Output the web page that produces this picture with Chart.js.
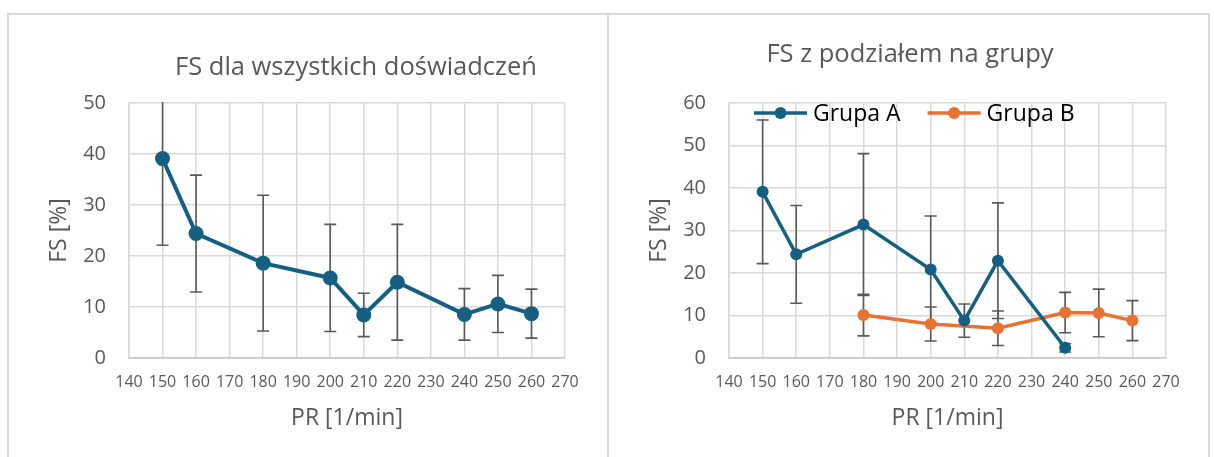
<!DOCTYPE html>
<html>
<head>
<meta charset="utf-8">
<script src="https://cdn.jsdelivr.net/npm/chart.js@4/dist/chart.umd.min.js"></script>
<style>
  html, body { margin: 0; padding: 0; background: #fff; width: 1214px; height: 457px; overflow: hidden; }
  .panel { position: absolute; top: 13px; height: 470px; border: 2px solid #d9d9d9; border-bottom: none; box-sizing: border-box; }
  #panelAll { left: 7px; width: 602px; }
  #panelGroups { left: 607px; width: 603px; }
  .wrap { position: absolute; top: 0; width: 607px; height: 457px; }
  canvas { display: block; }
</style>
</head>
<body>
<div class="panel" id="panelAll"></div>
<div class="panel" id="panelGroups"></div>
<div class="wrap" style="left:0"><canvas id="chartAll" width="607" height="457"></canvas></div>
<div class="wrap" style="left:607px"><canvas id="chartGroups" width="607" height="457"></canvas></div>

<script>
// PR levels (x) and FS means / standard deviations (y)
const prAll      = [150, 160, 180, 200, 210, 220, 240, 250, 260];
const fsAll      = [39.1, 24.4, 18.6, 15.7, 8.45, 14.85, 8.55, 10.6, 8.7];
const fsAllSd    = [17.0, 11.45, 13.3, 10.5, 4.25, 11.35, 5.05, 5.6, 4.8];

const prGroupA   = [150, 160, 180, 200, 210, 220, 240];
const fsGroupA   = [39.1, 24.4, 31.4, 20.8, 8.8, 22.9, 2.4];
const fsGroupASd = [16.9, 11.5, 16.7, 12.6, 3.9, 13.6, 1.0];

const prGroupB   = [180, 200, 220, 240, 250, 260];
const fsGroupB   = [10.1, 8.0, 7.0, 10.7, 10.6, 8.8];
const fsGroupBSd = [4.9, 4.0, 4.05, 4.75, 5.6, 4.7];

const groupLabels = ['Grupa A', 'Grupa B'];

// Axis ranges
const prMin = 140, prMax = 270, prStep = 10;
const fsAllMax = 50, fsGroupsMax = 60, fsStep = 10;

const BLUE = '#156082';
const ORANGE = '#E97132';
const TEXT = '#595959';
const GRID = '#d9d9d9';
const FONT = "'Open Sans', 'DejaVu Sans', sans-serif";

const toPoints = (xs, ys) => xs.map((x, i) => ({ x, y: ys[i] }));

// Vertical error bars with caps, drawn under the lines and markers
const errorBars = {
  id: 'errorBars',
  beforeDatasetsDraw(chart, args, opts) {
    const { ctx, chartArea: a, scales: { x, y } } = chart;
    ctx.save();
    ctx.beginPath();
    ctx.rect(a.left, a.top - 1, a.width, a.height + 2);
    ctx.clip();
    ctx.strokeStyle = opts.color;
    ctx.lineWidth = opts.width;
    chart.data.datasets.forEach(ds => {
      (ds.errors || []).forEach((e, i) => {
        const p = ds.data[i];
        const px = x.getPixelForValue(p.x);
        const hi = y.getPixelForValue(p.y + e);
        const lo = y.getPixelForValue(p.y - e);
        ctx.beginPath();
        ctx.moveTo(px, hi); ctx.lineTo(px, lo);
        ctx.moveTo(px - opts.cap, hi); ctx.lineTo(px + opts.cap, hi);
        ctx.moveTo(px - opts.cap, lo); ctx.lineTo(px + opts.cap, lo);
        ctx.stroke();
      });
    });
    ctx.restore();
  }
};

// Chart heading, placed above the plot
const heading = {
  id: 'heading',
  afterDraw(chart, args, opts) {
    const { ctx } = chart;
    ctx.save();
    ctx.font = `${opts.size}px ${FONT}`;
    ctx.fillStyle = TEXT;
    ctx.textAlign = 'center';
    ctx.textBaseline = 'alphabetic';
    ctx.fillText(opts.text, opts.x, opts.y);
    ctx.restore();
  }
};

// Line-and-marker legend drawn inside the plot area
const lineLegend = {
  id: 'lineLegend',
  afterDraw(chart, args, opts) {
    if (!opts.display) return;
    const { ctx } = chart;
    ctx.save();
    ctx.font = `${opts.size}px ${FONT}`;
    ctx.textBaseline = 'middle';
    ctx.textAlign = 'left';
    let x = opts.x;
    const y = opts.y;
    chart.data.datasets.forEach(ds => {
      ctx.strokeStyle = ds.borderColor;
      ctx.lineWidth = ds.borderWidth;
      ctx.beginPath();
      ctx.moveTo(x, y); ctx.lineTo(x + opts.lineLength, y);
      ctx.stroke();
      ctx.fillStyle = ds.pointBackgroundColor;
      ctx.beginPath();
      ctx.arc(x + opts.lineLength / 2, y, opts.markerRadius, 0, Math.PI * 2);
      ctx.fill();
      ctx.fillStyle = '#000';
      const tx = x + opts.lineLength + opts.textGap;
      ctx.fillText(ds.label, tx, y + 1);
      x = tx + ctx.measureText(ds.label).width + opts.itemGap;
    });
    ctx.restore();
  }
};

function scalesFor(yMax, yTitlePad) {
  return {
    x: {
      type: 'linear', min: prMin, max: prMax,
      afterFit: s => { s.height = 99; },
      grid: { color: GRID, lineWidth: 1.5, drawTicks: false },
      border: { color: '#c6c6c6', width: 1.5 },
      ticks: { stepSize: prStep, padding: 15, color: TEXT, font: { family: FONT, size: 16 } },
      title: { display: true, text: 'PR [1/min]', color: TEXT, font: { family: FONT, size: 23 }, padding: { top: 0, bottom: 25 } }
    },
    y: {
      min: 0, max: yMax,
      grid: { color: GRID, lineWidth: 1.5, drawTicks: false },
      border: { color: GRID, width: 1.5 },
      ticks: { stepSize: fsStep, padding: 23, color: TEXT, font: { family: FONT, size: 20 } },
      title: { display: true, text: 'FS [%]', color: TEXT, font: { family: FONT, size: 23 }, padding: { top: yTitlePad, bottom: 0 } }
    }
  };
}

function makeChart(id, datasets, cfg) {
  const scales = scalesFor(cfg.yMax, cfg.yTitlePad);
  scales.y.afterFit = s => { s.width = cfg.plotLeft; };
  return new Chart(document.getElementById(id), {
    type: 'line',
    data: { datasets },
    plugins: [errorBars, heading, lineLegend],
    options: {
      responsive: false,
      animation: false,
      layout: { padding: { left: 0, top: 103, right: cfg.padRight, bottom: 0 } },
      scales,
      plugins: {
        legend: { display: false },
        tooltip: { enabled: false },
        errorBars: { color: '#595959', width: 1.6, cap: 6 },
        heading: cfg.heading,
        lineLegend: cfg.legend
      }
    }
  });
}

makeChart('chartAll', [{
  label: 'FS',
  data: toPoints(prAll, fsAll),
  errors: fsAllSd,
  borderColor: BLUE, backgroundColor: BLUE, pointBackgroundColor: BLUE, pointBorderColor: BLUE,
  borderWidth: 4, pointRadius: 7.5, pointBorderWidth: 0, tension: 0
}], {
  yMax: fsAllMax, yTitlePad: 46, plotLeft: 129, padRight: 42,
  heading: { text: 'FS dla wszystkich doświadczeń', x: 356, y: 75, size: 25.5 },
  legend: { display: false }
});

makeChart('chartGroups', [{
  label: groupLabels[0],
  data: toPoints(prGroupA, fsGroupA),
  errors: fsGroupASd,
  borderColor: BLUE, backgroundColor: BLUE, pointBackgroundColor: BLUE, pointBorderColor: BLUE,
  borderWidth: 3.5, pointRadius: 6, pointBorderWidth: 0, tension: 0
}, {
  label: groupLabels[1],
  data: toPoints(prGroupB, fsGroupB),
  errors: fsGroupBSd,
  borderColor: ORANGE, backgroundColor: ORANGE, pointBackgroundColor: ORANGE, pointBorderColor: ORANGE,
  borderWidth: 3.5, pointRadius: 6, pointBorderWidth: 0, tension: 0
}], {
  yMax: fsGroupsMax, yTitlePad: 39, plotLeft: 122, padRight: 48,
  heading: { text: 'FS z podziałem na grupy', x: 303, y: 62, size: 25.5 },
  legend: { display: true, x: 147, y: 113, size: 23, lineLength: 53, textGap: 6, itemGap: 27, markerRadius: 6 }
});
</script>
</body>
</html>
